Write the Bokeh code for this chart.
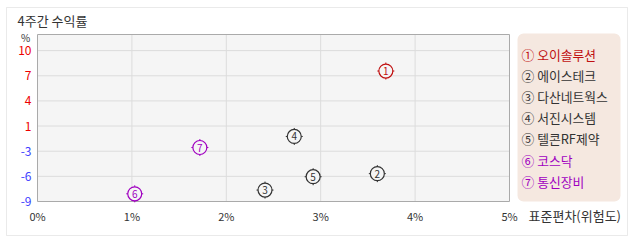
from bokeh.plotting import figure
from bokeh.models import Label, LabelSet, ColumnDataSource, BoxAnnotation, Range1d
from bokeh.embed import file_html
from bokeh.resources import INLINE
from bokeh.core.properties import value

# ---- data ----
names = ["① 오이솔루션", "② 에이스테크", "③ 다산네트웍스", "④ 서진시스템", "⑤ 텔콘RF제약", "⑥ 코스닥", "⑦ 통신장비"]
nums = ["1", "2", "3", "4", "5", "6", "7"]
risk = [3.69, 3.60, 2.41, 2.72, 2.92, 1.03, 1.72]      # 표준편차 (%)
ret = [7.43, -5.49, -7.56, -0.81, -5.88, -8.03, -2.20]  # 4주간 수익률 (%)
colors = ["#c01010", "#333333", "#333333", "#333333", "#333333", "#a000c0", "#a000c0"]
x_ticks = [0, 1, 2, 3, 4, 5]
x_labels = ["0%", "1%", "2%", "3%", "4%", "5%"]
y_ticks = [-9 + k * 19 / 6 for k in range(7)]
y_labels = ["-9", "-6", "-3", "1", "4", "7", "10"]
y_label_colors = ["#4040ff", "#4040ff", "#4040ff", "#ee0000", "#ee0000", "#ee0000", "#ee0000"]
X_MIN, X_MAX = 0, 5
Y_MIN, Y_MAX = -9, 12.03

FONT = "Noto Sans CJK KR"
W, H = 638, 242
# plot-area placement on the canvas (pixels)
PL, PR, PT, PB = 37, 509, 34, 201
sx = (PR - PL) / (X_MAX - X_MIN)
sy = (PB - PT) / (Y_MAX - Y_MIN)

p = figure(width=W, height=H,
           x_range=Range1d(X_MIN - PL / sx, X_MAX + (W - PR) / sx),
           y_range=Range1d(Y_MIN - (H - PB) / sy, Y_MAX + PT / sy),
           output_backend="svg", toolbar_location=None, min_border=0)
p.title.visible = False
p.axis.visible = False
p.grid.visible = False
p.outline_line_color = None
p.background_fill_color = "white"
p.border_fill_color = "white"

# outer frame
p.add_layout(BoxAnnotation(left=6, right=627, top=H - 7, bottom=H - 235,
                           left_units="screen", right_units="screen", top_units="screen", bottom_units="screen",
                           fill_color=None, line_color="#bbbbbb", line_width=1, level="underlay"))

# plot area
p.quad(left=[X_MIN], right=[X_MAX], bottom=[Y_MIN], top=[Y_MAX], fill_color="#f5f5f5", line_color=None)
gx = x_ticks[1:-1]
p.segment(x0=gx, x1=gx, y0=[Y_MIN] * len(gx), y1=[Y_MAX] * len(gx), line_color="#dcdcdc", line_width=1)
gy = y_ticks[1:]
p.segment(x0=[X_MIN] * len(gy), x1=[X_MAX] * len(gy), y0=gy, y1=gy, line_color="#dcdcdc", line_width=1)
p.quad(left=[X_MIN], right=[X_MAX], bottom=[Y_MIN], top=[Y_MAX], fill_color=None, line_color="#aaaaaa", line_width=1)

# tick labels
ysrc = ColumnDataSource(dict(y=y_ticks, t=y_labels, c=y_label_colors, x=[PL - 6] * len(y_ticks)))
p.add_layout(LabelSet(x="x", y="y", text="t", source=ysrc, x_units="screen", y_units="data",
                      text_align="right", text_baseline="middle", text_color="c",
                      text_font=value(FONT), text_font_size="12px"))
xsrc = ColumnDataSource(dict(x=x_ticks, t=x_labels, y=[H - 215] * len(x_ticks)))
p.add_layout(LabelSet(x="x", y="y", text="t", source=xsrc, x_units="data", y_units="screen",
                      text_align="center", text_baseline="middle", text_color="#333333",
                      text_font=value(FONT), text_font_size="11px"))

# points
src = ColumnDataSource(dict(x=risk, y=ret, n=nums, c=colors))
p.scatter("x", "y", source=src, marker="cross", size=17, line_color="c", line_width=1)
p.scatter("x", "y", source=src, marker="circle", size=14, fill_color="#f5f5f5", line_color="c", line_width=1.2)
p.text("x", "y", source=src, text="n", text_color="c", text_align="center", text_baseline="middle",
       text_font_size="10px", text_font=value(FONT))

# legend box
p.add_layout(BoxAnnotation(left=517, right=620, top=H - 33, bottom=H - 201,
                           left_units="screen", right_units="screen", top_units="screen", bottom_units="screen",
                           fill_color="#f5e8e0", fill_alpha=1, line_color=None, border_radius=6))
lsrc = ColumnDataSource(dict(x=[521] * 7, y=[H - (54 + 21.1 * i) for i in range(7)], t=names, c=colors))
p.add_layout(LabelSet(x="x", y="y", text="t", source=lsrc, x_units="screen", y_units="screen",
                      text_align="left", text_baseline="middle", text_color="c",
                      text_font=value(FONT), text_font_size="12.8px"))

p.add_layout(Label(x=17, y=H - 20, x_units="screen", y_units="screen", text="4주간 수익률",
                   text_baseline="middle", text_font=FONT, text_font_size="13px", text_color="#333333"))
p.add_layout(Label(x=25, y=H - 37, x_units="screen", y_units="screen", text="%",
                   text_align="center", text_baseline="middle", text_font=FONT, text_font_size="10px",
                   text_color="#333333"))
p.add_layout(Label(x=528, y=H - 215, x_units="screen", y_units="screen", text="표준편차(위험도)",
                   text_baseline="middle", text_font=FONT, text_font_size="13px", text_color="#333333"))

open("out.html", "w").write(file_html(p, INLINE))
